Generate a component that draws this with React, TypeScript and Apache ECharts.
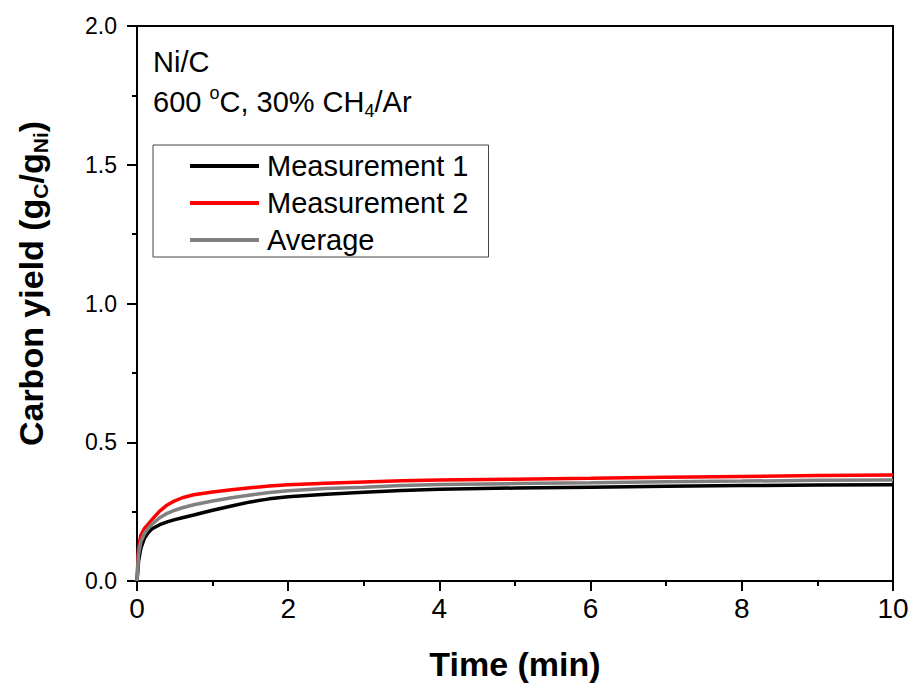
import React, { useEffect, useRef } from "react";
import * as echarts from "echarts";

const timeMin = [0, 0.02, 0.05, 0.1, 0.15, 0.2, 0.3, 0.4, 0.5, 0.6, 0.75, 1, 1.25, 1.5, 1.75, 2, 2.5, 3, 3.5, 4, 5, 6, 7, 8, 9, 10];
const measurement1 = [0, 0.07, 0.117, 0.155, 0.175, 0.188, 0.203, 0.213, 0.221, 0.228, 0.238, 0.255, 0.27, 0.285, 0.296, 0.304, 0.313, 0.32, 0.326, 0.331, 0.335, 0.338, 0.341, 0.344, 0.346, 0.347];
const measurement2 = [0, 0.12, 0.165, 0.19, 0.205, 0.222, 0.252, 0.274, 0.289, 0.3, 0.311, 0.321, 0.329, 0.336, 0.342, 0.347, 0.352, 0.357, 0.361, 0.364, 0.367, 0.37, 0.374, 0.377, 0.38, 0.382];
const average = [0, 0.095, 0.141, 0.172, 0.19, 0.205, 0.228, 0.244, 0.255, 0.264, 0.275, 0.288, 0.3, 0.31, 0.319, 0.325, 0.333, 0.338, 0.344, 0.348, 0.351, 0.354, 0.358, 0.36, 0.363, 0.364];
const seriesNames = ["Measurement 1", "Measurement 2", "Average"];

const FONT = "'Liberation Sans', Arial, Helvetica, sans-serif";

export default function App() {
  const ref = useRef<HTMLDivElement>(null);
  useEffect(() => {
    if (!ref.current) return;
    const chart = echarts.init(ref.current, null, { renderer: "svg" });
    const pair = (ys: number[]) => timeMin.map((t, i) => [t, ys[i]]);
    const mk = (name: string, ys: number[], color: string) => ({
      name,
      type: "line",
      data: pair(ys),
      showSymbol: false,
      symbol: "none",
      smooth: false,
      lineStyle: { color, width: 3.5 },
      itemStyle: { color },
      clip: true,
    });
    chart.setOption({
      animation: false,
      backgroundColor: "#ffffff",
      textStyle: { fontFamily: FONT },
      grid: {
        left: 137,
        right: 21,
        top: 26,
        bottom: 103,
        show: true,
        borderColor: "#000",
        borderWidth: 2,
        backgroundColor: "transparent",
      },
      legend: {
        orient: "vertical",
        left: 153,
        top: 145,
        padding: [6, 20, 2, 37],
        itemWidth: 69,
        itemHeight: 4,
        itemGap: 7,
        icon: "rect",
        borderColor: "#444",
        borderWidth: 1,
        textStyle: { fontSize: 29, lineHeight: 30, color: "#000", fontFamily: FONT, padding: [0, 0, 0, 3] },
        data: seriesNames,
      },
      xAxis: {
        type: "value",
        min: 0,
        max: 10,
        interval: 2,
        name: "Time (min)",
        nameLocation: "middle",
        nameGap: 66,
        nameTextStyle: { fontSize: 34, fontWeight: "bold", color: "#000", fontFamily: FONT },
        axisLine: { show: true, lineStyle: { color: "#000", width: 2 } },
        axisTick: { show: true, inside: false, length: 10, lineStyle: { color: "#000", width: 2 } },
        minorTick: { show: true, splitNumber: 2, length: 5, lineStyle: { color: "#000", width: 2 } },
        splitLine: { show: false },
        axisLabel: { fontSize: 28, color: "#000", margin: 13, fontFamily: FONT },
      },
      yAxis: {
        type: "value",
        min: 0,
        max: 2,
        interval: 0.5,
        name: "{b|Carbon yield (g}{s|C}{b|/g}{s|Ni}{b|)}",
        nameLocation: "middle",
        nameGap: 86,
        nameRotate: 90,
        nameTextStyle: {
          padding: [0, 0, 0, 40],
          rich: {
            b: { fontSize: 34, fontWeight: "bold", color: "#000", lineHeight: 40, fontFamily: FONT },
            s: { fontSize: 21, fontWeight: "bold", color: "#000", lineHeight: 21, verticalAlign: "bottom", fontFamily: FONT },
          },
        },
        axisLine: { show: true, lineStyle: { color: "#000", width: 2 } },
        axisTick: { show: true, inside: false, length: 10, lineStyle: { color: "#000", width: 2 } },
        minorTick: { show: true, splitNumber: 2, length: 5, lineStyle: { color: "#000", width: 2 } },
        splitLine: { show: false },
        axisLabel: {
          fontSize: 23,
          color: "#000",
          margin: 20,
          fontFamily: FONT,
          formatter: (v: number) => v.toFixed(1),
        },
      },
      graphic: [
        {
          type: "text",
          left: 153,
          top: 47,
          style: { text: "Ni/C", fontSize: 29, fill: "#000", fontFamily: FONT },
        },
        {
          type: "text",
          left: 153,
          top: 84,
          style: {
            text: "{m|600 }{p|o}{m|C, 30% CH}{q|4}{m|/Ar}",
            fontFamily: FONT,
            rich: {
              m: { fontSize: 29, fill: "#000", lineHeight: 36, fontFamily: FONT },
              p: { fontSize: 18, fill: "#000", lineHeight: 18, verticalAlign: "top", fontFamily: FONT },
              q: { fontSize: 18, fill: "#000", lineHeight: 18, verticalAlign: "bottom", fontFamily: FONT },
            },
          },
        },
      ],
      series: [
        mk(seriesNames[0], measurement1, "#000000"),
        mk(seriesNames[1], measurement2, "#ff0000"),
        mk(seriesNames[2], average, "#808080"),
      ],
    });
    return () => chart.dispose();
  }, []);
  return (
    <div
      ref={ref}
      style={{ position: "fixed", left: 0, top: 0, width: 914, height: 686, background: "#fff" }}
    />
  );
}
